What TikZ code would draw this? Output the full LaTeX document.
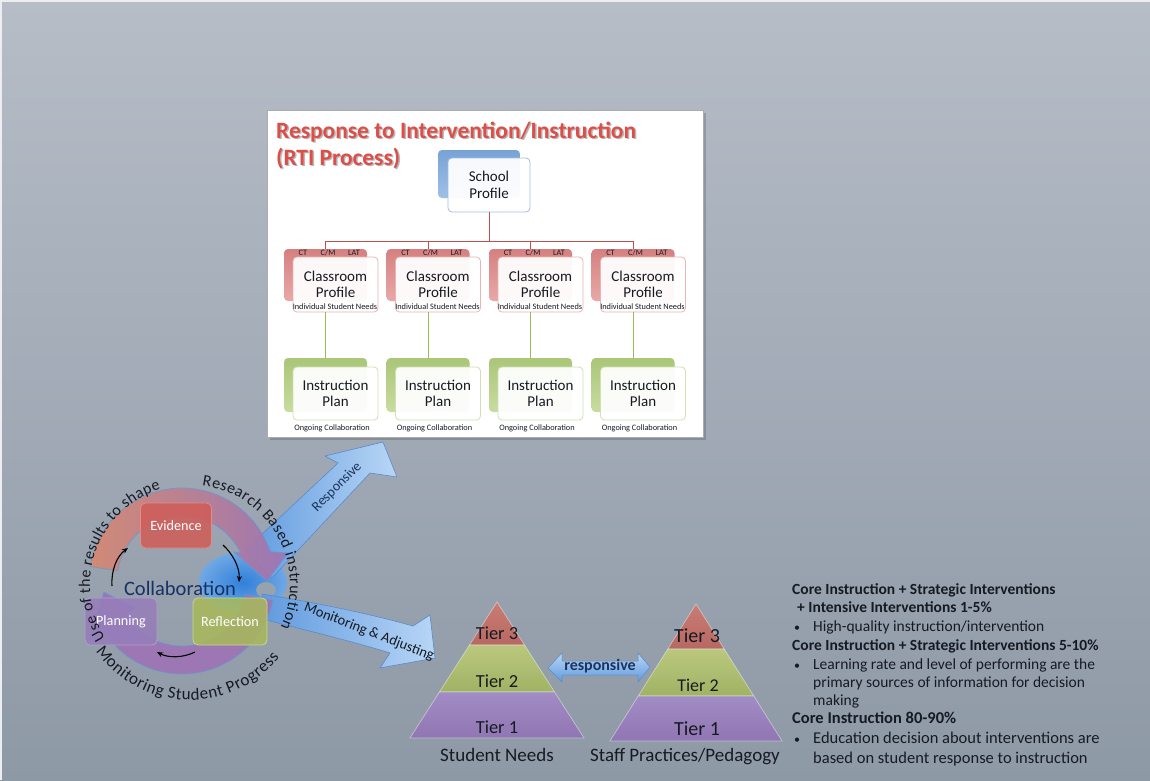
\documentclass[tikz,border=0pt]{standalone}
\usepackage{fontspec}
\setmainfont{Carlito}
\usetikzlibrary{arrows.meta,decorations.text}
\newcommand\fsz[2]{\fontsize{#1}{#2}\selectfont}

\definecolor{bgtop}{RGB}{182,189,199}
\definecolor{bgbot}{RGB}{142,153,166}
\definecolor{titlered}{RGB}{222,78,72}
\definecolor{schoolblue}{RGB}{120,162,214}
\definecolor{schoolblueL}{RGB}{160,192,232}
\definecolor{schoolline}{RGB}{160,190,230}
\definecolor{classred}{RGB}{214,128,128}
\definecolor{classredL}{RGB}{232,168,168}
\definecolor{classline}{RGB}{232,180,180}
\definecolor{plangreen}{RGB}{170,198,120}
\definecolor{plangreenL}{RGB}{200,220,160}
\definecolor{planline}{RGB}{208,224,176}
\definecolor{conred}{RGB}{192,80,77}
\definecolor{congreen}{RGB}{155,187,89}
\definecolor{navy}{RGB}{28,52,92}
\definecolor{collab}{RGB}{22,50,100}
\definecolor{inktext}{RGB}{22,26,34}
\definecolor{arrowdark}{RGB}{96,154,222}
\definecolor{arrowlight}{RGB}{184,214,246}
\definecolor{arrowedge}{RGB}{90,138,200}
\definecolor{blobin}{RGB}{48,128,218}
\definecolor{blobout}{RGB}{112,168,228}
\definecolor{ringorange}{RGB}{214,136,112}
\definecolor{ringpurple}{RGB}{158,116,180}
\definecolor{ringpink}{RGB}{200,124,146}
\definecolor{ringedge}{RGB}{104,152,210}
\definecolor{evfill}{RGB}{208,92,88}
\definecolor{evline}{RGB}{225,140,135}
\definecolor{plfill}{RGB}{150,125,185}
\definecolor{plline}{RGB}{178,158,206}
\definecolor{rffill}{RGB}{168,185,90}
\definecolor{rfline}{RGB}{200,215,140}
\definecolor{tierA}{RGB}{200,124,116}
\definecolor{tierAd}{RGB}{184,104,98}
\definecolor{tierB}{RGB}{186,200,126}
\definecolor{tierBd}{RGB}{160,178,100}
\definecolor{tierC}{RGB}{162,140,196}
\definecolor{tierCd}{RGB}{144,118,178}

\tikzset{
  chartback/.style={rounded corners=4pt, inner sep=0pt},
  chartfront/.style={rounded corners=4pt, line width=0.8pt, fill=white,
    fill opacity=0.94, text opacity=1, inner sep=0pt, align=center,
    font=\fsz{15}{16.5}, text=inktext},
  tinytext/.style={inner sep=0pt, font=\fsz{8.3}{9}, text=inktext},
  redline/.style={draw=conred, line width=1pt},
  greenline/.style={draw=congreen, line width=1pt},
  bigarrow/.style={draw=arrowedge, line width=0.6pt, left color=arrowdark, right color=arrowlight},
  ringup/.style={left color=ringorange, right color=ringpurple, draw=ringedge, line width=0.7pt, opacity=0.92},
  ringlow/.style={left color=ringpurple, middle color=ringpink, right color=ringpurple, draw=ringedge, line width=0.7pt, opacity=0.92},
  cycbox/.style={rounded corners=5pt, line width=0.8pt, fill opacity=0.86, text opacity=1,
    text=white, font=\fsz{14.2}{16}, inner sep=0pt},
  smallarrow/.style={draw=black, line width=1.1pt, -{Stealth[length=6pt,width=5pt]}},
  tierline/.style={draw=white, draw opacity=0.45, line width=0.7pt},
  sidetext/.style={anchor=base west, inner sep=0pt, text=inktext},
  titletext/.style={anchor=base west, inner sep=0pt, font=\bfseries\fsz{23.4}{26}},
}

\begin{document}
\begin{tikzpicture}[x=1pt,y=-1pt]
\useasboundingbox (0,0) rectangle (1150,780);

% backdrop
\shade[top color=bgtop, bottom color=bgbot] (0,0) rectangle (1150,780);
\draw[white!75!bgtop, line width=2pt] (1,780) -- (1,1) -- (1150,1);

% ---------------- RTI chart panel ----------------
\fill[black, opacity=0.16] (270,113) rectangle (706,440);
\node[draw=gray!65, line width=0.6pt, fill=white, minimum width=436pt, minimum height=327pt,
      inner sep=0pt, anchor=north west] (panel) at (267,110) {};

\node[titletext, text=black, opacity=0.28] (titleshA) at (277.5,139.8) {Response to Intervention/Instruction};
\node[titletext, text=black, opacity=0.28] (titleshB) at (277.5,166.8) {(RTI Process)};
\node[titletext, text=titlered] (titleA) at (276,138) {Response to Intervention/Instruction};
\node[titletext, text=titlered] (titleB) at (276,165) {(RTI Process)};

% school profile
\node[chartback, top color=schoolblue, bottom color=schoolblueL, minimum width=82pt, minimum height=48pt]
  (spb) at (479,174) {};
\node[chartfront, draw=schoolline, minimum width=82pt, minimum height=54pt]
  (sp) at (489,185) {School\\Profile};
\coordinate (bus) at (489,241);
\draw[redline] (sp.south) -- (bus);

\foreach \i/\x in {1/284,2/386.5,3/489,4/591.5}{
  % classroom profile
  \node[chartback, top color=classred, bottom color=classredL, minimum width=83pt, minimum height=52pt]
    (cb\i) at (\x+41.5,275) {};
  \draw[redline] (bus) -| (cb\i.north);
  \node[chartfront, draw=classline, minimum width=85pt, minimum height=55pt]
    (cp\i) at (\x+51.5,284.5) {Classroom\\Profile};
  \node[tinytext] (ct\i) at (\x+19,253) {CT};
  \node[tinytext] (cm\i) at (\x+44,253) {C/M};
  \node[tinytext] (lat\i) at (\x+70,253) {LAT};
  \node[tinytext] (isn\i) at (\x+51,307) {Individual Student Needs};
  % instruction plan
  \node[chartback, top color=plangreen, bottom color=plangreenL, minimum width=83pt, minimum height=54pt]
    (ib\i) at (\x+41.5,385) {};
  \draw[greenline] (cb\i.south |- cp\i.south) -- (ib\i.north);
  \node[chartfront, draw=planline, minimum width=85pt, minimum height=53pt]
    (ip\i) at (\x+51.5,393.5) {Instruction\\Plan};
  \node[tinytext] (oc\i) at (\x+48,428) {Ongoing Collaboration};
}

% ---------------- collaboration cycle ----------------
% blue swirl behind the ring
\shade[even odd rule, inner color=blobin, outer color=blobout]
  (243,582) ellipse (44 and 30) (266,590) ellipse (10 and 8);

% blue arrows
\shadedraw[bigarrow] (245,550) -- (338,463) -- (325,456) -- (383,442) -- (397,477)
  -- (370,473) -- (272,578) -- cycle;
\shadedraw[bigarrow] (262,594) .. controls (300,600) and (360,611) .. (413,626)
  -- (430,615) -- (435,658) -- (380,668) -- (390,653)
  .. controls (355,642) and (305,630) .. (266,620) -- cycle;

% circular arrows
\begin{scope}[shift={(182,581)}]
  \shadedraw[ringup] (189:93) arc (189:341.6:93) -- (106,-28) -- (85,0) -- (52,-29)
    -- (334:65) arc (334:189:65) -- cycle;
  \shadedraw[ringlow] (12:93) arc (12:150:93) -- (150:104) -- (172:79) -- (150:54)
    -- (150:65) arc (150:12:65) -- cycle;
\end{scope}

% cycle steps
\node[cycbox, fill=evfill, draw=evline, minimum width=71pt, minimum height=45pt] (ev) at (176,525.5) {Evidence};
\node[cycbox, fill=plfill, draw=plline, minimum width=72pt, minimum height=47pt] (pl) at (121,621.5) {Planning};
\node[cycbox, fill=rffill, draw=rfline, minimum width=74pt, minimum height=47pt] (rf) at (230,621.5) {Reflection};

\coordinate (evout) at (223,545);
\coordinate (rfin) at (239,582);
\coordinate (rfout) at (195,652);
\coordinate (plin) at (157,652);
\coordinate (plout) at (112,586);
\coordinate (evin) at (128,548);
\draw[smallarrow] (evout) .. controls (232,553) and (240,567) .. (rfin);
\draw[smallarrow] (rfout) .. controls (183,658) and (168,658) .. (plin);
\draw[smallarrow] (plout) .. controls (111,570) and (117,556) .. (evin);

\node[font=\fsz{20.5}{22}, text=collab, inner sep=0pt] (collabtxt) at (180,588) {Collaboration};

% words round the ring
\begin{scope}[shift={(190,585)}]
  \path[decorate, decoration={text along path, text align=fit to path,
    text={|\fsz{16}{18}\color{inktext}|Use of the results to shape}}]
    (148:100) arc (148:253:100);
  \path[decorate, decoration={text along path, text align=fit to path,
    text={|\fsz{16}{18}\color{inktext}|Research Based instruction}}]
    (277:100) arc (277:385:100);
  \path[decorate, decoration={text along path, text align=fit to path,
    text={|\fsz{17}{19}\color{inktext}|Monitoring Student Progress}}]
    (145:115) arc (145:39:115);
\end{scope}

\node[rotate=45, font=\fsz{14}{16}, text=navy, inner sep=0pt] (resplbl) at (337,487) {Responsive};
\node[rotate=-21, font=\fsz{14.5}{16}, text=inktext, inner sep=0pt] (monlbl) at (369,632) {Monitoring \& Adjusting};

% ---------------- tier pyramids ----------------
\shadedraw[tierline, top color=tierA, bottom color=tierAd] (497,602) -- (524.5,645) -- (469.5,645) -- cycle;
\shadedraw[tierline, top color=tierB, bottom color=tierBd] (469.5,645) -- (524.5,645) -- (554.6,692) -- (439.4,692) -- cycle;
\shadedraw[tierline, top color=tierC, bottom color=tierCd] (439.4,692) -- (554.6,692) -- (584,738) -- (410,738) -- cycle;

\shadedraw[tierline, top color=tierA, bottom color=tierAd] (696,604) -- (724.2,649) -- (667.8,649) -- cycle;
\shadedraw[tierline, top color=tierB, bottom color=tierBd] (667.8,649) -- (724.2,649) -- (753.8,696) -- (638.2,696) -- cycle;
\shadedraw[tierline, top color=tierC, bottom color=tierCd] (638.2,696) -- (753.8,696) -- (782,741) -- (610,741) -- cycle;

\node[font=\fsz{18.4}{20}, text=inktext, inner sep=0pt] (lt3) at (497,633) {Tier 3};
\node[font=\fsz{18.4}{20}, text=inktext, inner sep=0pt] (lt2) at (497,681) {Tier 2};
\node[font=\fsz{18.4}{20}, text=inktext, inner sep=0pt] (lt1) at (497,727) {Tier 1};
\node[font=\fsz{20}{22}, text=inktext, inner sep=0pt] (rt3) at (697,636) {Tier 3};
\node[font=\fsz{18}{20}, text=inktext, inner sep=0pt] (rt2) at (698,685) {Tier 2};
\node[font=\fsz{20}{22}, text=inktext, inner sep=0pt] (rt1) at (697,729) {Tier 1};

\node[font=\fsz{19}{21}, text=inktext, inner sep=0pt] (needs) at (497,755) {Student Needs};
\node[font=\fsz{19}{21}, text=inktext, inner sep=0pt] (staff) at (685,757) {Staff Practices/Pedagogy};

% two-way arrow between the pyramids
\shadedraw[draw=arrowedge, line width=0.5pt, top color=arrowlight, bottom color=arrowdark]
  (548,668) -- (562,653) -- (562,661) -- (638,661) -- (638,653) -- (650,667)
  -- (638,682) -- (638,675) -- (562,675) -- (562,682) -- cycle;
\node[font=\bfseries\fsz{16}{18}, text=navy, inner sep=0pt] (resp2) at (600,666) {responsive};

% ---------------- tier notes ----------------
\node[sidetext, font=\bfseries\fsz{15.5}{18}] (n1) at (792,594) {Core Instruction + Strategic Interventions};
\node[sidetext, font=\bfseries\fsz{15.5}{18}] (n2) at (797,612) {+ Intensive Interventions 1-5\%};
\node[sidetext, font=\fsz{12}{14}] (b1) at (794,631) {•};
\node[sidetext, font=\fsz{15.5}{18}] (n3) at (813,631) {High-quality instruction/intervention};
\node[sidetext, font=\bfseries\fsz{15.5}{18}] (n4) at (792,650) {Core Instruction + Strategic Interventions 5-10\%};
\node[sidetext, font=\fsz{12}{14}] (b2) at (794,669) {•};
\node[sidetext, font=\fsz{15.5}{18}] (n5) at (813,669) {Learning rate and level of performing are the};
\node[sidetext, font=\fsz{15.5}{18}] (n6) at (813,687) {primary sources of information for decision};
\node[sidetext, font=\fsz{15.5}{18}] (n7) at (813,705) {making};
\node[sidetext, font=\bfseries\fsz{16.5}{19}] (n8) at (792,723) {Core Instruction 80-90\%};
\node[sidetext, font=\fsz{12}{14}] (b3) at (794,743) {•};
\node[sidetext, font=\fsz{16.5}{19}] (n9) at (813,743) {Education decision about interventions are};
\node[sidetext, font=\fsz{16.5}{19}] (n10) at (813,763) {based on student response to instruction};

\end{tikzpicture}
\end{document}
